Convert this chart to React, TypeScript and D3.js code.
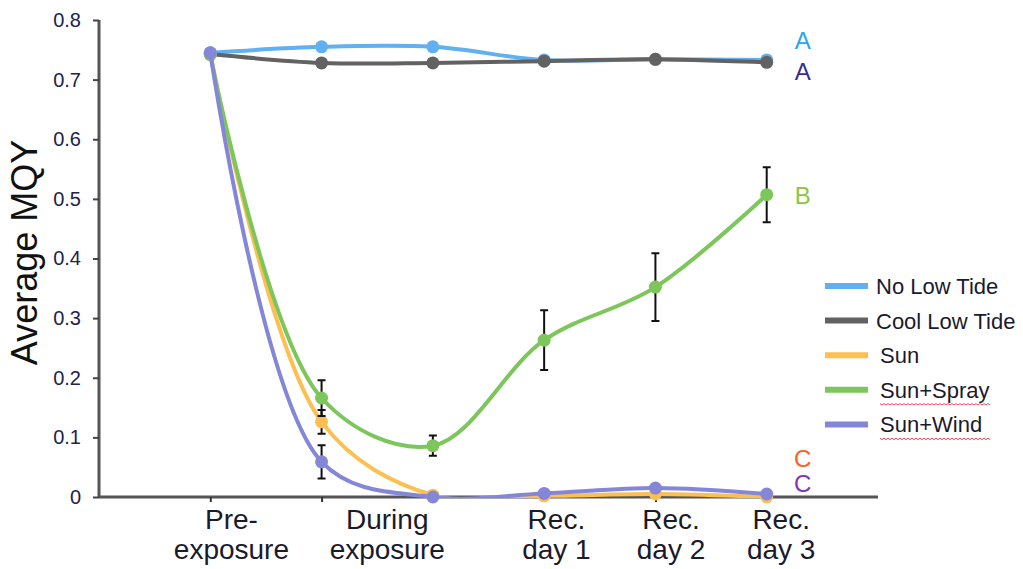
import { useEffect, useRef } from "react";
import * as d3 from "d3";

// six measurement points (two during exposure)
const timePoints = [1, 2, 3, 4, 5, 6];
const categoryLabels = [
  ["Pre-", "exposure"],
  ["During", "exposure"],
  ["Rec.", "day 1"],
  ["Rec.", "day 2"],
  ["Rec.", "day 3"],
];
const yTicks = [0, 0.1, 0.2, 0.3, 0.4, 0.5, 0.6, 0.7, 0.8];

const seriesNames = ["No Low Tide", "Cool Low Tide", "Sun", "Sun+Spray", "Sun+Wind"];
const noLowTide = [0.745, 0.755, 0.755, 0.733, 0.734, 0.733];
const coolLowTide = [0.743, 0.728, 0.728, 0.731, 0.734, 0.729];
const sun = [0.743, 0.126, 0.003, 0.002, 0.005, 0.0];
const sunSpray = [0.742, 0.166, 0.086, 0.263, 0.352, 0.507];
const sunWind = [0.745, 0.059, 0.0, 0.006, 0.015, 0.005];

const sunErr = [0, 0.02, 0, 0, 0, 0];
const sunSprayErr = [0, 0.03, 0.017, 0.05, 0.057, 0.046];
const sunWindErr = [0, 0.028, 0, 0, 0, 0];

const letters = ["A", "A", "B", "C", "C"];

export default function App() {
  const svgRef = useRef<SVGSVGElement | null>(null);

  useEffect(() => {
    const width = 1023;
    const height = 569;
    const svg = d3.select(svgRef.current);
    svg.selectAll("*").remove();
    svg.attr("width", width).attr("height", height);

    const font = "'Liberation Sans', Arial, Helvetica, sans-serif";
    const colors = ["#61b0f2", "#626262", "#fdbf50", "#7dc65b", "#8486d8"];
    const letterColors = ["#2aa6ee", "#3b2c93", "#8cc63f", "#ff611c", "#7a36b8"];
    const values = [noLowTide, coolLowTide, sun, sunSpray, sunWind];
    const errs = [null, null, sunErr, sunSprayErr, sunWindErr];

    const x = d3.scaleLinear().domain([0, 7]).range([99, 878]);
    const y = d3.scaleLinear().domain([0, 0.8]).range([497, 20]);

    // axes
    const yAxis = svg
      .append("g")
      .attr("transform", `translate(${x(0)},0)`)
      .call(
        d3
          .axisLeft(y)
          .tickValues(yTicks)
          .tickSize(6)
          .tickPadding(12)
          .tickFormat((d) => (+d === 0 ? "0" : (+d).toFixed(1)))
      );
    yAxis.select(".domain").attr("stroke", "#555").attr("stroke-width", 3).attr("d", `M0,${y(0.8)}V${y(0)}`);
    yAxis.selectAll(".tick line").attr("stroke", "#444").attr("stroke-width", 2);
    yAxis
      .selectAll(".tick text")
      .attr("font-family", font)
      .attr("font-size", 20)
      .attr("fill", "#22224a");

    const xAxis = svg
      .append("g")
      .attr("transform", `translate(0,${y(0)})`)
      .call(d3.axisBottom(x).tickValues(timePoints).tickSize(5).tickFormat(() => ""));
    xAxis.select(".domain").attr("stroke", "#555").attr("stroke-width", 3).attr("d", `M${x(0)},0H${x(7)}`);
    xAxis.selectAll(".tick line").attr("stroke", "#333").attr("stroke-width", 2);

    // category labels sit between/near the points like the original hand-placed boxes
    const labelSlots = [1.19, 2.59, 4.11, 5.14, 6.13];
    const labels = svg
      .append("g")
      .attr("font-family", font)
      .attr("font-size", 28)
      .attr("fill", "#1a1a2a")
      .attr("text-anchor", "middle");
    categoryLabels.forEach((lines, i) => {
      lines.forEach((t, j) => {
        labels
          .append("text")
          .attr("x", x(labelSlots[i]))
          .attr("y", 529 + j * 30)
          .text(t);
      });
    });

    svg
      .append("text")
      .attr("transform", `translate(37,${(y(0) + y(0.8)) / 2 - 6}) rotate(-90)`)
      .attr("text-anchor", "middle")
      .attr("font-family", font)
      .attr("font-size", 36)
      .attr("fill", "#111")
      .text("Average MQY");

    // lines
    svg
      .append("defs")
      .append("clipPath")
      .attr("id", "plot-clip")
      .append("rect")
      .attr("x", x(0))
      .attr("y", 0)
      .attr("width", x(7) - x(0))
      .attr("height", y(0) + 1);

    const line = d3
      .line<number>()
      .x((_, i) => x(timePoints[i]))
      .y((d) => y(d))
      .curve(d3.curveCatmullRom.alpha(0.5));

    values.forEach((vals, s) => {
      const g = svg.append("g");
      g.append("path")
        .attr("d", line(vals))
        .attr("fill", "none")
        .attr("stroke", colors[s])
        .attr("stroke-width", 4)
        .attr("clip-path", "url(#plot-clip)");
      const e = errs[s];
      if (e) {
        vals.forEach((v, i) => {
          if (!e[i]) return;
          const cx = x(timePoints[i]);
          g.append("path")
            .attr(
              "d",
              `M${cx},${y(v + e[i])}V${y(v - e[i])}M${cx - 4},${y(v + e[i])}H${cx + 4}M${cx - 4},${y(v - e[i])}H${cx + 4}`
            )
            .attr("stroke", "#111")
            .attr("stroke-width", 2)
            .attr("fill", "none");
        });
      }
      g.selectAll("circle")
        .data(vals)
        .join("circle")
        .attr("cx", (_, i) => x(timePoints[i]))
        .attr("cy", (d) => y(d))
        .attr("r", 6.5)
        .attr("fill", colors[s]);
    });

    // significance letters at the last point
    const last = timePoints.length - 1;
    const letterY = [
      y(noLowTide[last]) - 11,
      y(coolLowTide[last]) + 18,
      y(sunSpray[last]) + 9,
      y(sun[last]) - 30,
      y(sunWind[last]) - 2,
    ];
    letters.forEach((l, i) => {
      svg
        .append("text")
        .attr("x", x(timePoints[last]) + 36)
        .attr("y", letterY[i])
        .attr("text-anchor", "middle")
        .attr("font-family", font)
        .attr("font-size", 24)
        .attr("fill", letterColors[i])
        .text(l);
    });

    // legend
    const legend = svg.append("g").attr("transform", "translate(825,286)");
    seriesNames.forEach((name, i) => {
      const row = legend.append("g").attr("transform", `translate(0,${i * 34.6})`);
      row.append("line").attr("x1", 0).attr("x2", 43).attr("stroke", colors[i]).attr("stroke-width", 6);
      row
        .append("text")
        .attr("x", name === "Sun" || name.startsWith("Sun+") ? 55 : 51)
        .attr("dy", "0.36em")
        .attr("font-family", font)
        .attr("font-size", 22)
        .attr("fill", "#1a1a2e")
        .text(name);
      if (name.startsWith("Sun+")) {
        // spell-check squiggle from the original screenshot
        const pts = d3.range(0, 112, 2).map((k) => [55 + k, 14 + ((k / 2) % 2 ? 1.2 : -0.2)] as [number, number]);
        row
          .append("path")
          .attr("d", d3.line()(pts))
          .attr("fill", "none")
          .attr("stroke", "#e8495a")
          .attr("stroke-width", 1);
      }
    });
  }, []);

  return (
    <div>
      <style>{"body{margin:0;background:#fff}"}</style>
      <svg ref={svgRef} style={{ display: "block" }} />
    </div>
  );
}
